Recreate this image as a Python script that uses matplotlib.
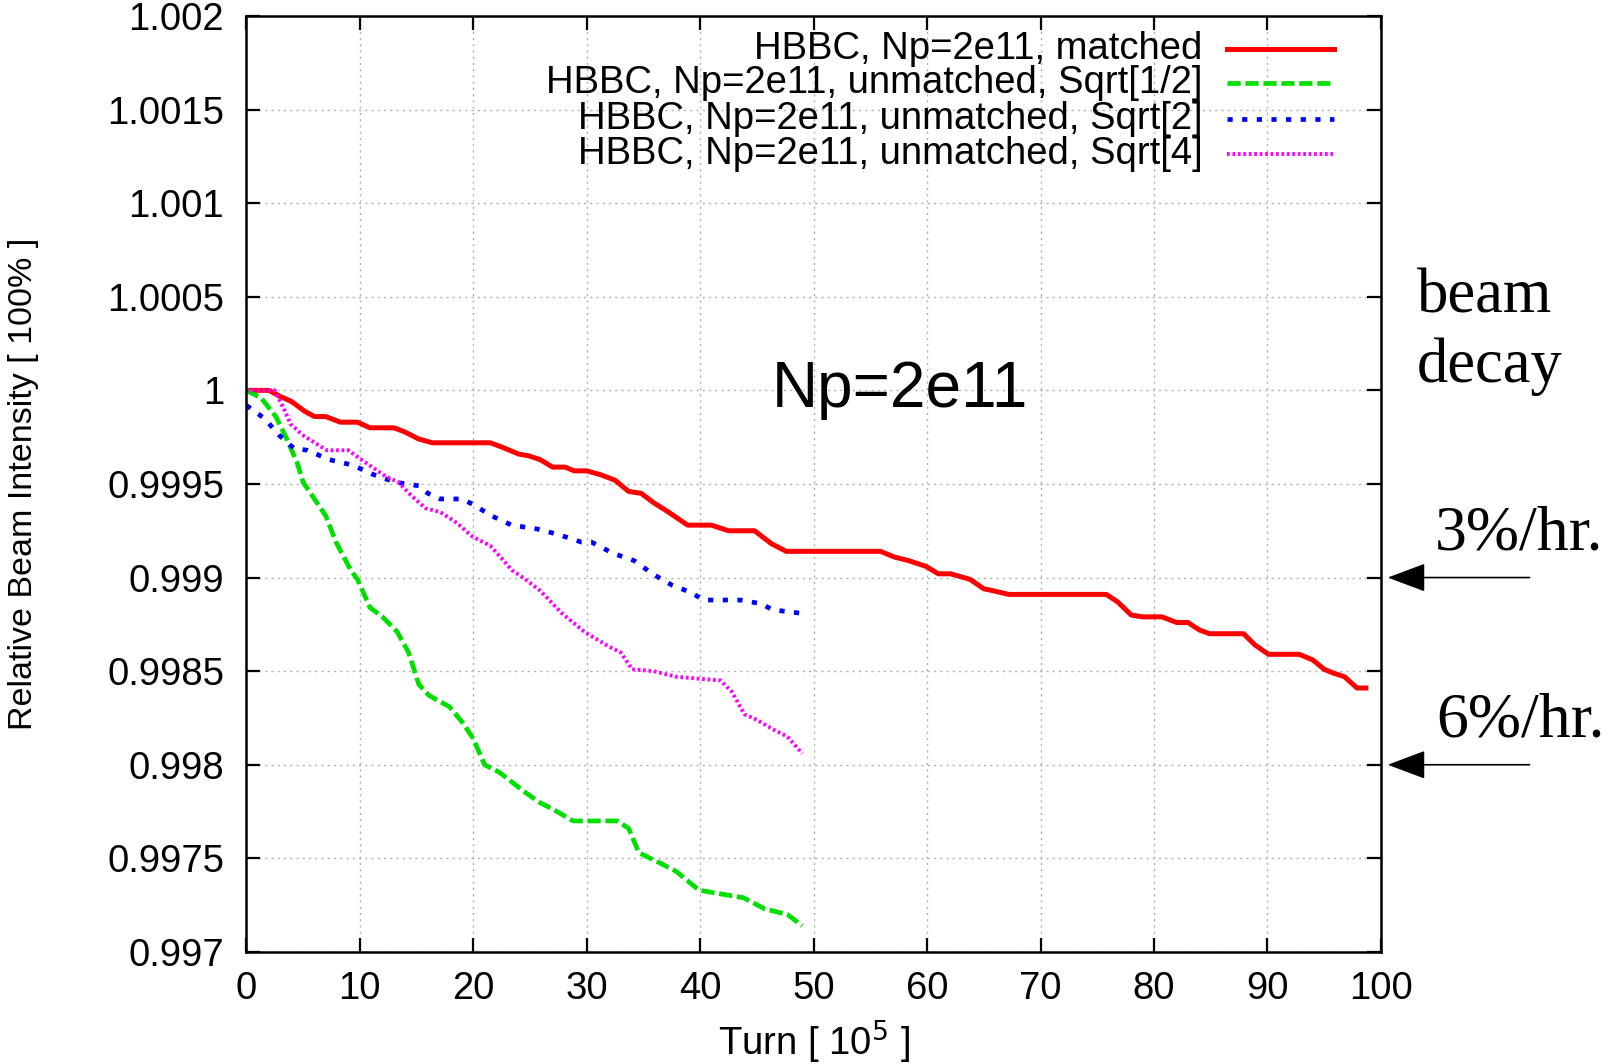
import matplotlib
matplotlib.use('Agg')
import matplotlib.pyplot as plt

plt.rcParams['font.family'] = ['Liberation Sans', 'DejaVu Sans']

# turn [1e5] vs relative intensity
red_x = [0, 2, 2.9, 4.0, 5.1, 6.0, 7.0, 8.3, 9.8, 10.9, 13.0, 13.9, 15.2, 16.4, 21.5, 22.4, 24.0, 24.9, 25.9, 27.0,
         28.1, 28.9, 30.0, 31.2, 32.5, 33.7, 34.8, 35.9, 37.2, 38.9, 41.0, 42.5, 44.8, 46.3, 47.6, 48.8, 55.9, 57.1, 58.4, 59.9,
         61.0, 62.1, 63.8, 65.0, 65.8, 67.2, 75.8, 76.8, 78.0, 79.0, 80.7, 82.0, 83.0, 84.0, 84.9, 87.9, 88.9, 90.1, 92.8, 94.0,
         95.0, 95.8, 96.8, 97.9, 98.9]
red_y = [1.0, 1.0, 0.99997, 0.99994, 0.99989, 0.99986, 0.99986, 0.99983, 0.99983, 0.9998,
         0.9998, 0.99978, 0.99974, 0.99972, 0.99972, 0.9997, 0.99966, 0.99965, 0.99963, 0.99959,
         0.99959, 0.99957, 0.99957, 0.99955, 0.99952, 0.99946, 0.99945, 0.9994, 0.99935, 0.99928,
         0.99928, 0.99925, 0.99925, 0.99918, 0.99914, 0.99914, 0.99914, 0.99911, 0.99909, 0.99906,
         0.99902, 0.99902, 0.99899, 0.99894, 0.99893, 0.99891, 0.99891, 0.99887, 0.9988, 0.99879,
         0.99879, 0.99876, 0.99876, 0.99872, 0.9987, 0.9987, 0.99864, 0.99859, 0.99859, 0.99856,
         0.99851, 0.99849, 0.99847, 0.99841, 0.99841]

green_x = [0, 1.3, 2.6, 3.5, 4.5, 5.0, 6.0, 7.0, 7.9, 9.2, 9.8, 10.9, 12.0, 13.3, 14.3, 15.2, 16.1, 17.9, 19.0, 20.0,
           21.0, 22.3, 24.2, 25.8, 27.1, 28.8, 32.7, 33.7, 34.6, 36.3, 37.9, 39.9, 41.8, 43.8, 45.7, 47.7, 49.0]
green_y = [1.0, 0.99996, 0.99986, 0.99975, 0.99961, 0.99951, 0.99942, 0.99933, 0.99919, 0.99904,
           0.99899, 0.99884, 0.99879, 0.99871, 0.9986, 0.99843, 0.99837, 0.99831, 0.99823, 0.99814,
           0.998, 0.99796, 0.99787, 0.9978, 0.99776, 0.9977, 0.9977, 0.99766, 0.99753, 0.99748,
           0.99743, 0.99733, 0.99731, 0.99729, 0.99723, 0.9972, 0.99714]

blue_x = [0, 1.6, 2.9, 4.2, 5.4, 7.3, 9.4, 11.2, 13.1, 15.2, 16.0, 17.1, 19.0, 20.0, 21.6, 23.4, 25.6, 27.5, 29.5, 30.4,
          32.3, 34.2, 35.8, 37.5, 39.2, 40.3, 43.5, 45.4, 46.3, 47.4, 48.8]
blue_y = [0.99992, 0.99985, 0.99976, 0.99969, 0.99968, 0.99963, 0.9996, 0.99955, 0.99951, 0.99949,
          0.99945, 0.99942, 0.99942, 0.99939, 0.99933, 0.99928, 0.99926, 0.99923, 0.99919, 0.99919,
          0.99913, 0.99909, 0.99902, 0.99896, 0.99892, 0.99888, 0.99888, 0.99886, 0.99883, 0.99882, 0.99881]

mag_x = [0, 2.5, 3.4, 3.9, 5.0, 6.3, 7.1, 9.0, 9.9, 11.1, 12.3, 13.4, 14.5, 15.8, 17.1, 18.6, 19.9, 21.5, 22.4, 23.4,
         24.6, 25.9, 27.8, 29.8, 32.0, 33.0, 34.0, 35.9, 37.9, 41.8, 42.8, 43.9, 45.0, 46.4, 47.7, 49.0]
mag_y = [1.0, 1.0, 0.99989, 0.99982, 0.99976, 0.99971, 0.99968, 0.99968, 0.99964, 0.99959,
         0.99954, 0.99951, 0.99944, 0.99937, 0.99935, 0.99929, 0.99922, 0.99917, 0.99911, 0.99904,
         0.99899, 0.99893, 0.99881, 0.99871, 0.99863, 0.9986, 0.99851, 0.9985, 0.99847, 0.99845,
         0.99839, 0.99827, 0.99824, 0.99819, 0.99815, 0.99806]

labels = ['HBBC, Np=2e11, matched',
          'HBBC, Np=2e11, unmatched, Sqrt[1/2]',
          'HBBC, Np=2e11, unmatched, Sqrt[2]',
          'HBBC, Np=2e11, unmatched, Sqrt[4]']

x_ticks = list(range(0, 101, 10))
y_ticks = [0.997, 0.9975, 0.998, 0.9985, 0.999, 0.9995, 1.0, 1.0005, 1.001, 1.0015, 1.002]
y_ticklabels = ['0.997', '0.9975', '0.998', '0.9985', '0.999', '0.9995', '1', '1.0005', '1.001', '1.0015', '1.002']

fig = plt.figure(figsize=(16.1, 10.64), dpi=100)
ax = fig.add_axes([0.1530, 0.1053, 0.7047, 0.8797])

styles = [
    dict(color='#ff0000', lw=3.6, ls='-'),
    dict(color='#00e000', lw=3.4, ls=(0, (2.8, 1.0))),
    dict(color='#0000ff', lw=3.4, ls=(0, (1.1, 2.0))),
    dict(color='#ff00ff', lw=2.8, ls=(0, (0.7, 0.7))),
]
series = [(red_x, red_y), (green_x, green_y), (blue_x, blue_y), (mag_x, mag_y)]

for (xs, ys), st in zip(series, styles):
    ax.plot(xs, ys, solid_capstyle='butt', dash_capstyle='butt', **st)

# legend drawn by hand: right aligned text, sample line on the right
rows_y = [0.965, 0.928, 0.890, 0.853]
for lab, st, yy in zip(labels, styles, rows_y):
    ax.text(0.843, yy, lab, transform=ax.transAxes, ha='right', va='center', fontsize=27.5)
    ax.plot([0.864, 0.959], [yy, yy], transform=ax.transAxes, dash_capstyle='butt', **st)

ax.set_xlim(0, 100)
ax.set_ylim(0.997, 1.002)
ax.set_xticks(x_ticks)
ax.set_yticks(y_ticks)
ax.set_yticklabels(y_ticklabels)
ax.tick_params(direction='in', length=10, width=1.6, top=True, right=True, labelsize=27.5)
ax.tick_params(axis='y', pad=16)
ax.tick_params(axis='x', pad=14)
for sp in ax.spines.values():
    sp.set_linewidth(1.8)
ax.grid(True, color='#b0b0b0', lw=1.0, ls=(0, (1.5, 3)))

ax.set_xlabel(r'Turn [ 10$^5$ ]', fontsize=27.5)
ax.xaxis.set_label_coords(0.5, -0.071)
ax.set_ylabel('Relative Beam Intensity [ 100% ]', fontsize=24.5)
ax.yaxis.set_label_coords(-0.183, 0.5)

ax.text(46.3, 0.99991, 'Np=2e11', fontsize=46, va='baseline', ha='left')

serif = ['Liberation Serif', 'DejaVu Serif']
fig.text(0.880, 0.706, 'beam', family=serif, fontsize=45, va='baseline')
fig.text(0.880, 0.641, 'decay', family=serif, fontsize=45, va='baseline')
fig.text(0.891, 0.484, '3%/hr.', family=serif, fontsize=46, va='baseline')
fig.text(0.892, 0.308, '6%/hr.', family=serif, fontsize=46, va='baseline')

for lvl in [0.999, 0.998]:
    ax.annotate('', xy=(1.006, lvl), xytext=(1.131, lvl),
                xycoords=('axes fraction', 'data'), textcoords=('axes fraction', 'data'),
                arrowprops=dict(arrowstyle='-|>,head_length=1.2,head_width=0.45', mutation_scale=20,
                                color='black', lw=1.2, shrinkA=0, shrinkB=0),
                annotation_clip=False)

fig.savefig('out.png', dpi=100)
